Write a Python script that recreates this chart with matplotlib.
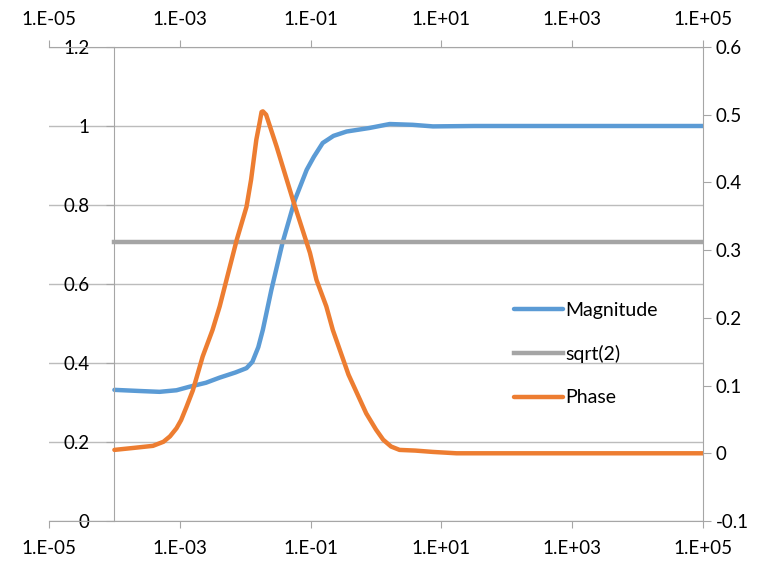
import numpy as np
import matplotlib
matplotlib.use("Agg")
import matplotlib.pyplot as plt
from matplotlib.ticker import FixedLocator, NullLocator, FuncFormatter

plt.rcParams['font.family'] = ['Lato', 'DejaVu Sans']

# magnitude (left axis), log10 of frequency
mag_logx = [-4.0, -3.6, -3.31, -3.05, -2.85, -2.6, -2.39, -2.15, -1.98, -1.89,
            -1.80, -1.73, -1.60, -1.43, -1.24, -1.06, -0.95, -0.815, -0.65,
            -0.45, -0.10, 0.21, 0.56, 0.87, 1.5, 3.0, 5.0]
mag_val = [0.332, 0.329, 0.327, 0.331, 0.340, 0.350, 0.363, 0.376, 0.387, 0.403,
           0.440, 0.484, 0.585, 0.704, 0.813, 0.889, 0.922, 0.957, 0.975,
           0.986, 0.995, 1.005, 1.003, 0.999, 1.0, 1.0, 1.0]

# phase (right axis)
ph_logx = [-4.0, -3.7, -3.41, -3.25, -3.15, -3.05, -2.98, -2.90, -2.80, -2.65,
           -2.50, -2.39, -2.13, -1.98, -1.91, -1.83, -1.78, -1.75, -1.73, -1.68,
           -1.52, -1.27, -1.01, -0.91, -0.76, -0.66, -0.42, -0.15, 0.0, 0.11,
           0.23, 0.36, 0.6, 0.87, 1.23, 3.0, 5.0]
ph_val = [0.005, 0.008, 0.011, 0.017, 0.025, 0.037, 0.049, 0.068, 0.093, 0.143,
          0.182, 0.217, 0.315, 0.364, 0.404, 0.463, 0.488, 0.504, 0.505, 0.500,
          0.453, 0.374, 0.296, 0.256, 0.217, 0.182, 0.116, 0.059, 0.035, 0.020,
          0.010, 0.005, 0.004, 0.002, 0.0, 0.0, 0.0]

sqrt2_x = [1e-4, 1e5]
sqrt2_val = [0.7071, 0.7071]

x_ticks = [1e-5, 1e-3, 1e-1, 1e1, 1e3, 1e5]
left_ticks = [0, 0.2, 0.4, 0.6, 0.8, 1.0, 1.2]
right_ticks = [-0.1, 0, 0.1, 0.2, 0.3, 0.4, 0.5, 0.6]

blue = '#5B9BD5'
orange = '#ED7D31'
gray = '#A5A5A5'
axcol = '#A6A6A6'
gridcol = '#BCBCBC'

fig = plt.figure(figsize=(7.62, 5.63), dpi=100)
ax = fig.add_axes([49 / 762, 1 - 521 / 563, 654 / 762, 474 / 563])
ax2 = ax.twinx()

ax.plot(10 ** np.array(mag_logx), mag_val, color=blue, lw=3.2,
        solid_capstyle='round', solid_joinstyle='round', label='Magnitude')
ax.plot(sqrt2_x, sqrt2_val, color=gray, lw=3.2, label='sqrt(2)')
ax2.plot(10 ** np.array(ph_logx), ph_val, color=orange, lw=3.2,
         solid_capstyle='round', solid_joinstyle='round', label='Phase')

ax.set_xscale('log')
ax.set_xlim(1e-5, 1e5)
ax.set_ylim(0, 1.2)
ax2.set_ylim(-0.1, 0.6)

ax.xaxis.set_major_locator(FixedLocator(x_ticks))
ax.xaxis.set_minor_locator(NullLocator())
ax.xaxis.set_major_formatter(FuncFormatter(lambda v, _: '1.E%+03d' % round(np.log10(v))))
ax.yaxis.set_major_locator(FixedLocator(left_ticks))
ax.yaxis.set_major_formatter(FuncFormatter(lambda v, _: '%g' % round(v, 2)))
ax2.yaxis.set_major_locator(FixedLocator(right_ticks))
ax2.yaxis.set_major_formatter(FuncFormatter(lambda v, _: '%g' % round(v, 2)))

ax.yaxis.grid(True, color=gridcol, lw=1.0)
ax.set_axisbelow(True)

ax.spines['left'].set_position(('data', 1e-4))
for s in ax.spines.values():
    s.set_color(axcol)
ax.spines['right'].set_visible(False)
for name, s in ax2.spines.items():
    s.set_visible(name == 'right')
    s.set_color(axcol)

ax.tick_params(axis='x', direction='out', length=5, color=axcol, top=True,
               labeltop=True, labelsize=13.5, pad=9)
ax.tick_params(axis='y', direction='out', length=6, color=axcol,
               labelsize=13.5, pad=12)
ax2.tick_params(axis='y', direction='out', length=6, color=axcol,
                labelsize=13.5, pad=3)

h1, l1 = ax.get_legend_handles_labels()
h2, l2 = ax2.get_legend_handles_labels()
ax2.legend(h1 + h2, l1 + l2, loc='center left', bbox_to_anchor=(0.711, 0.352),
           frameon=False, fontsize=14, handlelength=2.5, handletextpad=0.15,
           labelspacing=1.35, borderpad=0, borderaxespad=0)

fig.savefig('out.png', dpi=100)
